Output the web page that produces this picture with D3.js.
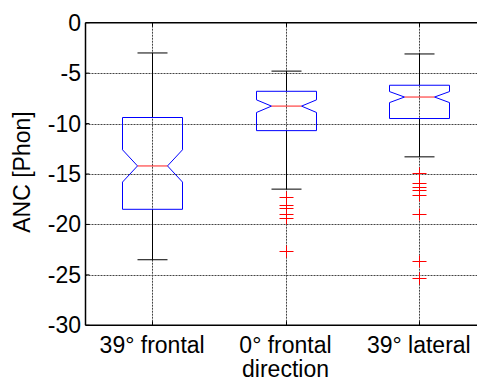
<!DOCTYPE html>
<html>
<head>
<meta charset="utf-8">
<script src="https://cdn.jsdelivr.net/npm/d3@7"></script>
<style>
  body { margin: 0; background: #fff; }
  svg { display: block; }
  text { font-family: Arial, "Liberation Sans", sans-serif; fill: #000; }
</style>
</head>
<body>
<svg width="477" height="385"></svg>
<script>
// data
var categories = ["39° frontal", "0° frontal", "39° lateral"];
var whiskerHi = [-3.0, -4.8, -3.1];
var q3 = [-9.4, -6.8, -6.2];
var notchHi = [-12.6, -7.65, -6.83];
var median = [-14.2, -8.27, -7.37];
var notchLo = [-15.8, -8.9, -7.92];
var q1 = [-18.5, -10.7, -9.5];
var whiskerLo = [-23.5, -16.5, -13.3];
var outliers = [
    [],
    [-17.3, -18.1, -18.4, -19.0, -19.4, -22.6],
    [-14.9, -15.9, -16.3, -16.6, -17.1, -19.0, -23.6, -25.3]
];
var yTicks = [0, -5, -10, -15, -20, -25, -30];

var svg = d3.select('svg');
var plotLeft = 85.5, plotRight = 485.5, plotTop = 22.7, plotBottom = 325.3;

var x = d3.scaleLinear().domain([0.5, 3.5]).range([plotLeft, plotRight]);
var y = d3.scaleLinear().domain([-30, 0]).range([plotBottom, plotTop]);

var boxHalf = 30, capHalf = 15, notchHalf = 15;

// grid
var grid = svg.append('g').attr('class', 'grid');
grid.selectAll('line.gy')
    .data(yTicks.slice(1, -1))
    .enter()
    .append('line')
    .attr('x1', plotLeft).attr('x2', plotRight)
    .attr('y1', function(d) { return Math.round(y(d)) + 0.5; })
    .attr('y2', function(d) { return Math.round(y(d)) + 0.5; })
    .attr('stroke', '#444').attr('stroke-dasharray', '2,1');
grid.selectAll('line.gx')
    .data(d3.range(1, categories.length + 1))
    .enter()
    .append('line')
    .attr('x1', function(d) { return Math.round(x(d)) + 0.5; })
    .attr('x2', function(d) { return Math.round(x(d)) + 0.5; })
    .attr('y1', plotTop).attr('y2', plotBottom)
    .attr('stroke', '#444').attr('stroke-dasharray', '2,1');

// boxes
var boxes = svg.append('g').selectAll('g')
    .data(categories)
    .enter()
    .append('g');

boxes.each(function(c, i) {
    var g = d3.select(this);
    var cx = Math.round(x(i + 1)) + 0.5;

    // whiskers
    g.append('line')
        .attr('x1', cx).attr('x2', cx)
        .attr('y1', y(whiskerHi[i])).attr('y2', y(q3[i]))
        .attr('stroke', '#000');
    g.append('line')
        .attr('x1', cx).attr('x2', cx)
        .attr('y1', y(q1[i])).attr('y2', y(whiskerLo[i]))
        .attr('stroke', '#000');
    g.append('line')
        .attr('x1', cx - capHalf).attr('x2', cx + capHalf)
        .attr('y1', y(whiskerHi[i])).attr('y2', y(whiskerHi[i]))
        .attr('stroke', '#000');
    g.append('line')
        .attr('x1', cx - capHalf).attr('x2', cx + capHalf)
        .attr('y1', y(whiskerLo[i])).attr('y2', y(whiskerLo[i]))
        .attr('stroke', '#000');

    // notched box
    var pts = [
        [cx - boxHalf, y(q3[i])],
        [cx + boxHalf, y(q3[i])],
        [cx + boxHalf, y(notchHi[i])],
        [cx + notchHalf, y(median[i])],
        [cx + boxHalf, y(notchLo[i])],
        [cx + boxHalf, y(q1[i])],
        [cx - boxHalf, y(q1[i])],
        [cx - boxHalf, y(notchLo[i])],
        [cx - notchHalf, y(median[i])],
        [cx - boxHalf, y(notchHi[i])]
    ];
    g.append('path')
        .attr('d', d3.line()(pts) + 'Z')
        .attr('fill', 'none')
        .attr('stroke', '#0000ff');

    // median
    g.append('line')
        .attr('x1', cx - notchHalf).attr('x2', cx + notchHalf)
        .attr('y1', y(median[i])).attr('y2', y(median[i]))
        .attr('stroke', '#ff0000').attr('stroke-width', 1.5).attr('stroke-opacity', 0.6);

    // outliers
    g.selectAll('path.out')
        .data(outliers[i])
        .enter()
        .append('path')
        .attr('d', function(d) {
            var py = Math.round(y(d)) + 0.5;
            return 'M' + (cx - 7) + ',' + py + 'H' + (cx + 7) +
                'M' + cx + ',' + (py - 6) + 'V' + (py + 6);
        })
        .attr('stroke', '#ff0000')
        .attr('fill', 'none');
});

// axes frame
var frame = svg.append('g');
frame.append('line').attr('x1', plotLeft).attr('x2', plotRight).attr('y1', plotTop).attr('y2', plotTop).attr('stroke', '#000').attr('stroke-width', 1.5);
frame.append('line').attr('x1', plotLeft).attr('x2', plotRight).attr('y1', plotBottom).attr('y2', plotBottom).attr('stroke', '#000').attr('stroke-width', 1.5);
frame.append('line').attr('x1', plotLeft).attr('x2', plotLeft).attr('y1', plotTop).attr('y2', plotBottom).attr('stroke', '#000').attr('stroke-width', 1.5);

// small inside ticks
frame.selectAll('path.tx')
    .data(d3.range(1, categories.length + 1))
    .enter()
    .append('path')
    .attr('d', function(d) {
        var px = Math.round(x(d)) + 0.5;
        return 'M' + px + ',' + plotTop + 'V' + (plotTop + 4) + 'M' + px + ',' + plotBottom + 'V' + (plotBottom - 4);
    })
    .attr('stroke', '#000');
frame.selectAll('line.ty')
    .data(yTicks)
    .enter()
    .append('line')
    .attr('x1', plotLeft).attr('x2', plotLeft + 4)
    .attr('y1', function(d) { return y(d); })
    .attr('y2', function(d) { return y(d); })
    .attr('stroke', '#000');

// tick labels
svg.append('g').selectAll('text')
    .data(yTicks)
    .enter()
    .append('text')
    .attr('x', 81)
    .attr('y', function(d) { return y(d); })
    .attr('dy', '0.35em')
    .attr('text-anchor', 'end')
    .style('font-size', '23px')
    .text(function(d) { return d; });

svg.append('g').selectAll('text')
    .data(categories)
    .enter()
    .append('text')
    .attr('x', function(d, i) { return x(i + 1); })
    .attr('y', 353)
    .attr('text-anchor', 'middle')
    .style('font-size', '23px')
    .text(function(d) { return d; });

svg.append('text')
    .attr('x', x(2))
    .attr('y', 377)
    .attr('text-anchor', 'middle')
    .style('font-size', '23px')
    .text('direction');

svg.append('text')
    .attr('transform', 'translate(30,172) rotate(-90)')
    .attr('text-anchor', 'middle')
    .style('font-size', '23px')
    .text('ANC [Phon]');
</script>
</body>
</html>
